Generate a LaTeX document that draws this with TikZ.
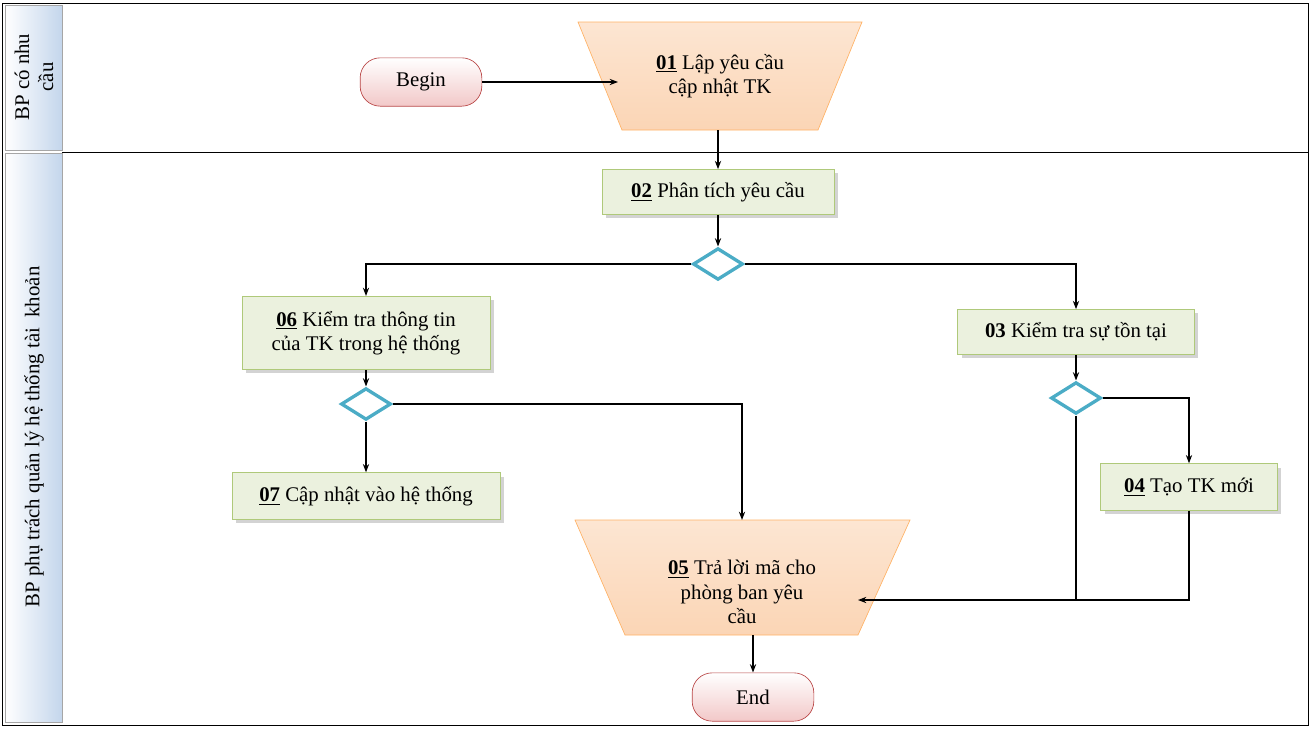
\documentclass[tikz,border=0pt]{standalone}
\usepackage{fontspec}
\setmainfont{Liberation Serif}
\usetikzlibrary{shapes.geometric,shadows,arrows.meta}
\definecolor{laneblue}{RGB}{196,214,236}
\definecolor{boxgreen}{RGB}{235,241,222}
\definecolor{boxline}{RGB}{155,187,89}
\definecolor{pinkfill}{RGB}{242,200,200}
\definecolor{orangefill}{RGB}{251,213,181}
\definecolor{dcyan}{RGB}{75,172,198}
\begin{document}
\begin{tikzpicture}[x=0.6pt, y=-0.6pt, font=\fontsize{12.5}{14.5}\selectfont,
    lane/.style={draw=gray!70, left color=white, right color=laneblue},
    task/.style={draw=boxline!80, fill=boxgreen, drop shadow={opacity=0.35}, align=center, inner sep=2pt},
    term/.style={rounded corners=12pt, draw=red!45!gray, top color=white, bottom color=pinkfill, minimum width=73pt, minimum height=29pt},
    funnel/.style={draw=orange!60, top color=orangefill!60, bottom color=orangefill},
    dec/.style={diamond, draw=dcyan, line width=2pt, fill=white, minimum width=30pt, minimum height=19pt, inner sep=0pt, aspect=1.6},
    arr/.style={-{Stealth[length=5pt]}, thick},
    ln/.style={thick}]
    \useasboundingbox (0,0) rectangle (1310,730);
    % Lanes
    \draw (2,3) rectangle (1308,725);
    \draw (62,152) -- (1308,152);
    \draw[lane] (5,5) rectangle (62,150);
    \draw[lane] (5,153) rectangle (62,722);
    \node[rotate=90, align=center] (laneA) at (34,77) {BP có nhu\\cầu};
    \node[rotate=90] (laneB) at (34,437) {BP phụ trách quản lý hệ thống tài\ \ khoản};

    % Funnels
    \draw[funnel] (578,22) -- (862,22) -- (818,130) -- (622,130) -- cycle;
    \node[align=center] (s01) at (720,76) {\underline{\textbf{01}} Lập yêu cầu\\cập nhật TK};
    \coordinate (s01l) at (618,82);
    \coordinate (s01b) at (718,130);
    \draw[funnel] (575,520) -- (910,520) -- (858,635) -- (625,635) -- cycle;
    \node[align=center] (s05) at (742,592) {\underline{\textbf{05}} Trả lời mã cho\\phòng ban yêu\\cầu};
    \coordinate (s05t) at (742,520);
    \coordinate (s05r) at (858,600);
    \coordinate (s05b) at (753,635);

    % Steps
    \node[term] (begin) at (421,82) {Begin};
    \node[term] (end) at (753,697) {End};
    \node[task, minimum width=139pt, minimum height=27pt] (s02) at (718,192) {\underline{\textbf{02}} Phân tích yêu cầu};
    \node[task, minimum width=149pt, minimum height=44pt] (s06) at (366,333) {\underline{\textbf{06}} Kiểm tra thông tin\\của TK trong hệ thống};
    \node[task, minimum width=142pt, minimum height=27pt] (s03) at (1076,332) {\textbf{03} Kiểm tra sự tồn tại};
    \node[task, minimum width=161pt, minimum height=28pt] (s07) at (366,496) {\underline{\textbf{07}} Cập nhật vào hệ thống};
    \node[task, minimum width=106pt, minimum height=28pt] (s04) at (1189,487) {\underline{\textbf{04}} Tạo TK mới};
    \node[dec] (d1) at (718,264) {};
    \node[dec] (d2) at (366,404) {};
    \node[dec] (d3) at (1076,398) {};

    % Connectors
    \draw[arr] (begin) -- (s01l);
    \draw[arr] (s01b) -- (s02);
    \draw[arr] (s02) -- (d1);
    \draw[arr] (d1.west) -| (s06.north);
    \draw[arr] (d1.east) -| (s03.north);
    \draw[arr] (s06) -- (d2);
    \draw[arr] (d2) -- (s07);
    \draw[arr] (d2.east) -| (s05t);
    \draw[arr] (s03) -- (d3);
    \draw[arr] (d3.east) -| (s04.north);
    \draw[arr] (s04.south) |- (s05r);
    \draw[ln] (d3.south) -- (1076,600);
    \draw[arr] (s05b) -- (end);
\end{tikzpicture}
\end{document}
